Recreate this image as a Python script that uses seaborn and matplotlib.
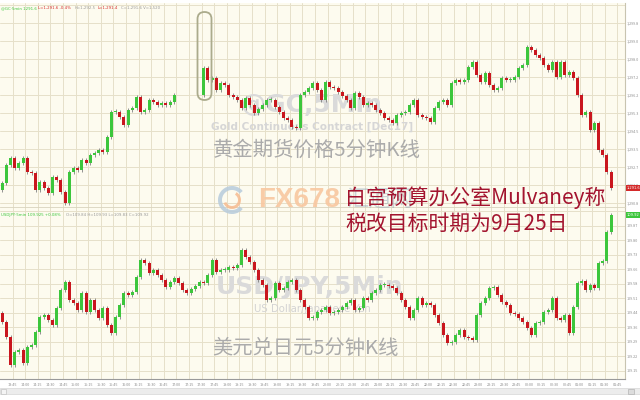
import numpy as np
import pandas as pd
import matplotlib
matplotlib.use("Agg")
import matplotlib.pyplot as plt
import seaborn as sns
from matplotlib.patches import FancyBboxPatch, Rectangle, Wedge
from matplotlib.transforms import IdentityTransform, blended_transform_factory

# ---------------- data (5-minute closes) ----------------
gold_first_open = 1291.50
gold_close = [
    1291.85, 1292.75, 1293.10, 1292.60, 1292.85, 1293.10, 1292.40, 1292.35, 1291.50, 1291.90,
    1291.60, 1291.35, 1292.15, 1292.00, 1291.40, 1290.85, 1292.40, 1292.60, 1292.50, 1293.00,
    1292.85, 1293.25, 1293.35, 1293.50, 1293.40, 1294.15, 1295.40, 1295.40, 1295.15, 1294.75,
    1295.50, 1295.60, 1296.15, 1295.40, 1295.50, 1296.00, 1295.90, 1295.75, 1295.85, 1295.75,
    1295.90, 1296.25, None, None, None, None, None, None,
    1297.60, 1297.00, 1297.10, 1296.50, 1296.85, 1296.75, 1296.25, 1296.15, 1296.00, 1295.60,
    1296.10, 1295.75, 1295.35, 1295.55, 1295.75, 1296.00, 1296.00, 1295.65, 1295.40, 1295.10,
    1295.00, 1294.65, 1294.60, 1296.25, 1296.40, 1296.60, 1296.85, 1296.50, 1296.00, 1296.90,
    1296.65, 1296.60, 1296.40, 1296.20, 1296.00, 1295.60, 1296.35, 1296.15, 1295.75, 1295.85,
    1295.75, 1295.50, 1295.35, 1295.10, 1295.00, 1294.85, 1295.25, 1295.35, 1295.40, 1295.75,
    1296.00, 1295.25, 1295.15, 1295.10, 1294.90, 1295.60, 1295.90, 1296.00, 1295.75, 1296.85,
    1297.00, 1296.90, 1297.00, 1297.65, 1297.90, 1297.25, 1296.90, 1297.35, 1296.75, 1296.50,
    1296.60, 1297.10, 1297.00, 1297.00, 1297.15, 1297.60, 1297.75, 1298.65, 1298.50, 1298.25,
    1298.10, 1297.75, 1297.50, 1297.90, 1297.15, 1297.90, 1297.25, 1297.40, 1297.10, 1296.25,
    1295.25, 1295.40, 1294.50, 1294.85, 1293.50, 1293.25, 1292.40, 1291.60,
]

jpy_first_open = 109.435
jpy_close = [
    109.390, 109.315, 109.175, 109.240, 109.250, 109.185, 109.265, 109.275, 109.340, 109.415,
    109.425, 109.400, 109.375, 109.460, 109.550, 109.590, 109.500, 109.485, 109.450, 109.535,
    109.440, 109.500, 109.450, 109.410, 109.460, 109.375, 109.335, 109.415, 109.475, 109.535,
    109.525, 109.540, 109.615, 109.700, 109.685, 109.635, 109.650, 109.625, 109.600, 109.565,
    109.590, 109.610, 109.585, 109.550, 109.535, 109.555, 109.570, 109.590, 109.585, 109.625,
    109.700, 109.640, 109.650, 109.650, 109.665, 109.660, 109.675, 109.750, 109.715, 109.690,
    109.650, 109.600, 109.575, 109.500, 109.510, 109.585, 109.550, 109.560, 109.590, 109.600,
    109.550, 109.500, 109.465, 109.410, 109.410, 109.440, 109.450, 109.465, 109.435, 109.440,
    109.450, 109.465, 109.485, 109.500, 109.450, 109.460, 109.510, 109.500, 109.535, 109.550,
    109.575, 109.575, 109.570, 109.560, 109.535, 109.500, 109.465, 109.410, 109.450, 109.510,
    109.475, 109.485, 109.475, 109.425, 109.385, 109.325, 109.285, 109.290, 109.325, 109.350,
    109.315, 109.310, 109.300, 109.425, 109.485, 109.510, 109.560, 109.565, 109.525, 109.490,
    109.475, 109.435, 109.430, 109.410, 109.390, 109.360, 109.325, 109.385, 109.390, 109.440,
    109.450, 109.510, 109.410, 109.400, 109.425, 109.335, 109.465, 109.585, 109.595, 109.550,
    109.575, 109.560, 109.685, 109.695, 109.840, 109.925,
]

time_labels = [
    "13:45", "14:00", "14:15", "14:30", "14:45", "15:00", "15:15", "15:30", "15:45", "16:00",
    "16:15", "16:30", "16:45", "17:00", "17:15", "17:30", "17:45", "18:00", "18:15", "18:30",
    "18:45", "19:00", "19:15", "19:30", "19:45", "20:00", "20:15", "20:30", "20:45", "21:00",
    "21:15", "21:30", "21:45", "22:00", "22:15", "22:30", "22:45", "23:00", "23:15", "23:30",
    "23:45", "00:00", "00:15", "00:30", "00:45", "01:00", "01:15", "01:30", "01:45",
]

# ---------------- style ----------------
sns.set_theme(style="white")
plt.rcParams["font.family"] = ["Noto Sans CJK SC", "DejaVu Sans"]

BG = "#fdfbef"
GRID = "#e6e0c9"
UP = "#3cc63c"
DOWN = "#c9161e"
WICK = "#808080"

W, H = 640, 400
fig = plt.figure(figsize=(6.4, 4.0), dpi=100)
fig.patch.set_facecolor("white")


def fx(x):
    return x / W


def fy(y):
    return 1 - y / H


def build(closes, first_open, pad, minbody):
    c = np.array(closes, dtype=float)
    o = np.full_like(c, np.nan)
    prev = first_open
    for k in range(len(c)):
        if np.isnan(c[k]):
            continue
        o[k] = prev
        prev = c[k]
    df = pd.DataFrame({"idx": np.arange(len(c)), "open": o, "close": c}).dropna()
    df["lo"] = df[["open", "close"]].min(axis=1)
    df["hi"] = df[["open", "close"]].max(axis=1)
    df["body"] = (df["hi"] - df["lo"]).clip(lower=minbody)
    df["wlo"] = df["lo"] - pad
    df["whi"] = df["lo"] + df["body"] + pad
    df["col"] = np.where(df["close"] >= df["open"], UP, DOWN)
    return df


def candles(ax, df):
    ax.vlines(df["idx"], df["wlo"], df["whi"], color=WICK, lw=0.6, zorder=3)
    ax.bar(df["idx"], df["body"], bottom=df["lo"], width=0.72,
           color=df["col"], linewidth=0, zorder=4)


gold = build(gold_close, gold_first_open, 0.12, 0.05)
jpy = build(jpy_close, jpy_first_open, 0.012, 0.005)

xl = (-0.5, 148.3)
xt = [2.5 + 3 * k for k in range(len(time_labels))]

ax1 = fig.add_axes([0, fy(207), 625 / W, 204 / H])
ax2 = fig.add_axes([0, fy(379), 625 / W, 172 / H])

# gold: 1 px = 0.05
ax1.set_ylim(1290.65, 1300.85)
gold_grid = [1301 - 0.05 * (5 + 18 * k) for k in range(12)]
# jpy: 1 px = 0.005
ax2.set_ylim(109.105, 109.965)
jpy_grid = [111 - 0.005 * (211 + 14.5 * k) for k in range(12)]

for ax, grid, fmt in ((ax1, gold_grid, "{:,.1f}"), (ax2, jpy_grid, "{:.2f}")):
    ax.set_facecolor(BG)
    ax.set_xlim(*xl)
    ax.set_xticks(xt)
    ax.set_yticks(grid)
    ax.set_yticklabels([""] + [fmt.format(v) for v in grid[1:]])
    ax.yaxis.tick_right()
    ax.tick_params(axis="y", labelsize=2.7, colors="#8c8c8c", length=0, pad=1.5)
    ax.grid(True, color=GRID, lw=0.7, zorder=0)
    ax.set_axisbelow(True)
    for s in ("top", "left", "bottom"):
        ax.spines[s].set_visible(False)
    ax.spines["right"].set_color("#c8c4b0")
    ax.spines["right"].set_linewidth(0.8)

ax1.tick_params(axis="x", labelbottom=False, length=0)
ax2.set_xticklabels(time_labels)
ax2.tick_params(axis="x", labelsize=2.7, colors="#8c8c8c", length=0, pad=3)
ax2.spines["bottom"].set_visible(True)
ax2.spines["bottom"].set_color("#9a9a9a")
ax2.spines["bottom"].set_linewidth(0.8)
ax2.spines["top"].set_visible(True)
ax2.spines["top"].set_color("#d8d3bd")
ax2.spines["top"].set_linewidth(0.6)

candles(ax1, gold)
candles(ax2, jpy)

# watermarks (under the candles)
ax1.text(fx(311), fy(105), "@GC,5Min", transform=fig.transFigure, ha="center", va="center",
         fontsize=18, fontweight="bold", color="#dadada", family="DejaVu Sans", zorder=1)
ax1.text(fx(312), fy(127), "Gold Continuous Contract [Dec17]", transform=fig.transFigure,
         ha="center", va="center", fontsize=7.6, fontweight="bold", color="#d6d6d6",
         family="DejaVu Sans", zorder=1)
ax2.text(fx(310), fy(287), "USD/JPY,5Min", transform=fig.transFigure, ha="center", va="center",
         fontsize=18, fontweight="bold", color="#dadada", family="DejaVu Sans", zorder=1)
ax2.text(fx(312), fy(309), "US Dollar/Japanese Yen", transform=fig.transFigure,
         ha="center", va="center", fontsize=7.3, color="#d3d3d3", family="DejaVu Sans", zorder=1)

# current price tags
bt1 = blended_transform_factory(ax1.transAxes, ax1.transData)
ax1.text(1.003, gold_close[-1], "{:,.1f}".format(gold_close[-1]), transform=bt1, fontsize=2.6,
         color="white", va="center", ha="left", family="DejaVu Sans",
         bbox=dict(boxstyle="square,pad=0.3", fc="#d42a2a", ec="none"), zorder=6, clip_on=False)
bt2 = blended_transform_factory(ax2.transAxes, ax2.transData)
ax2.text(1.003, jpy_close[-1], "{:.2f}".format(jpy_close[-1]), transform=bt2, fontsize=2.6,
         color="white", va="center", ha="left", family="DejaVu Sans",
         bbox=dict(boxstyle="square,pad=0.3", fc="#3cc63c", ec="none"), zorder=6, clip_on=False)

# header lines (tiny)
hdr_top = [
    (1, "@GC·5min 1291.6", "#3cc63c"),
    (38, "L=1,291.6 -0.4%", "#d42a2a"),
    (75, "H=1,292.5", "#999999"),
    (98, "L=1,291.4", "#d42a2a"),
    (121, "C=1,291.6 V=1,520", "#999999"),
]
for x, s, c in hdr_top:
    fig.text(fx(x), fy(8), s, fontsize=2.8, color=c, va="center", family="DejaVu Sans")
hdr_bot = [
    (1, "USDJPY·5min 109.925 +0.08%", "#3cc63c"),
    (66, "O=109.84 H=109.93 L=109.83 C=109.92", "#999999"),
]
for x, s, c in hdr_bot:
    fig.text(fx(x), fy(215), s, fontsize=2.8, color=c, va="center", family="DejaVu Sans")

# highlight around the gap-open spike
fig.add_artist(FancyBboxPatch((197.5, H - 100), 14, 88,
                              boxstyle="round,pad=0,rounding_size=7",
                              transform=IdentityTransform(), fill=False,
                              ec="#abab8c", lw=1.3, zorder=8))

# FX678 logo (faded)
cx, cy = 232, H - 200
fig.add_artist(Wedge((cx, cy), 14, 40, 320, width=4, transform=IdentityTransform(),
                     fc="#b7cbdc", ec="none", alpha=0.85, zorder=8))
fig.add_artist(Wedge((cx, cy), 9, 200, 60, width=3, transform=IdentityTransform(),
                     fc="#f6bb90", ec="none", alpha=0.85, zorder=8))
fig.text(fx(258), fy(200), "FX678", fontsize=20, fontweight="bold", color="#f8c7a0",
         family="Liberation Sans", va="center", ha="left", alpha=0.9, zorder=8)
fig.text(fx(346), fy(199), "汇通网", fontsize=16, color="#8ea3b8", va="center", ha="left",
         alpha=0.45, zorder=8)

# editor captions
fig.text(fx(317), fy(150), "黄金期货价格5分钟K线", fontsize=14.7, color="#ababab",
         ha="center", va="center", zorder=9)
fig.text(fx(305), fy(348), "美元兑日元5分钟K线", fontsize=14.6, color="#ababab",
         ha="center", va="center", zorder=9)
fig.text(fx(345), fy(198), "白宫预算办公室Mulvaney称", fontsize=15, color="#a3142f",
         ha="left", va="center", zorder=10)
fig.text(fx(345), fy(224), "税改目标时期为9月25日", fontsize=15, color="#a3142f",
         ha="left", va="center", zorder=10)

# scrollbar strip
fig.add_artist(Rectangle((0, H - 394), W, 6, transform=IdentityTransform(),
                         fc="#ececec", ec="#d6d6d6", lw=0.5, zorder=8))
fig.add_artist(Rectangle((1, H - 393.5), 5, 5, transform=IdentityTransform(),
                         fc="#f4f4f4", ec="#c4c4c4", lw=0.5, zorder=9))
fig.add_artist(Rectangle((628, H - 393.5), 6, 5, transform=IdentityTransform(),
                         fc="#dcdcdc", ec="#b4b4b4", lw=0.5, zorder=9))

fig.savefig("out.png", dpi=100, facecolor="white")
